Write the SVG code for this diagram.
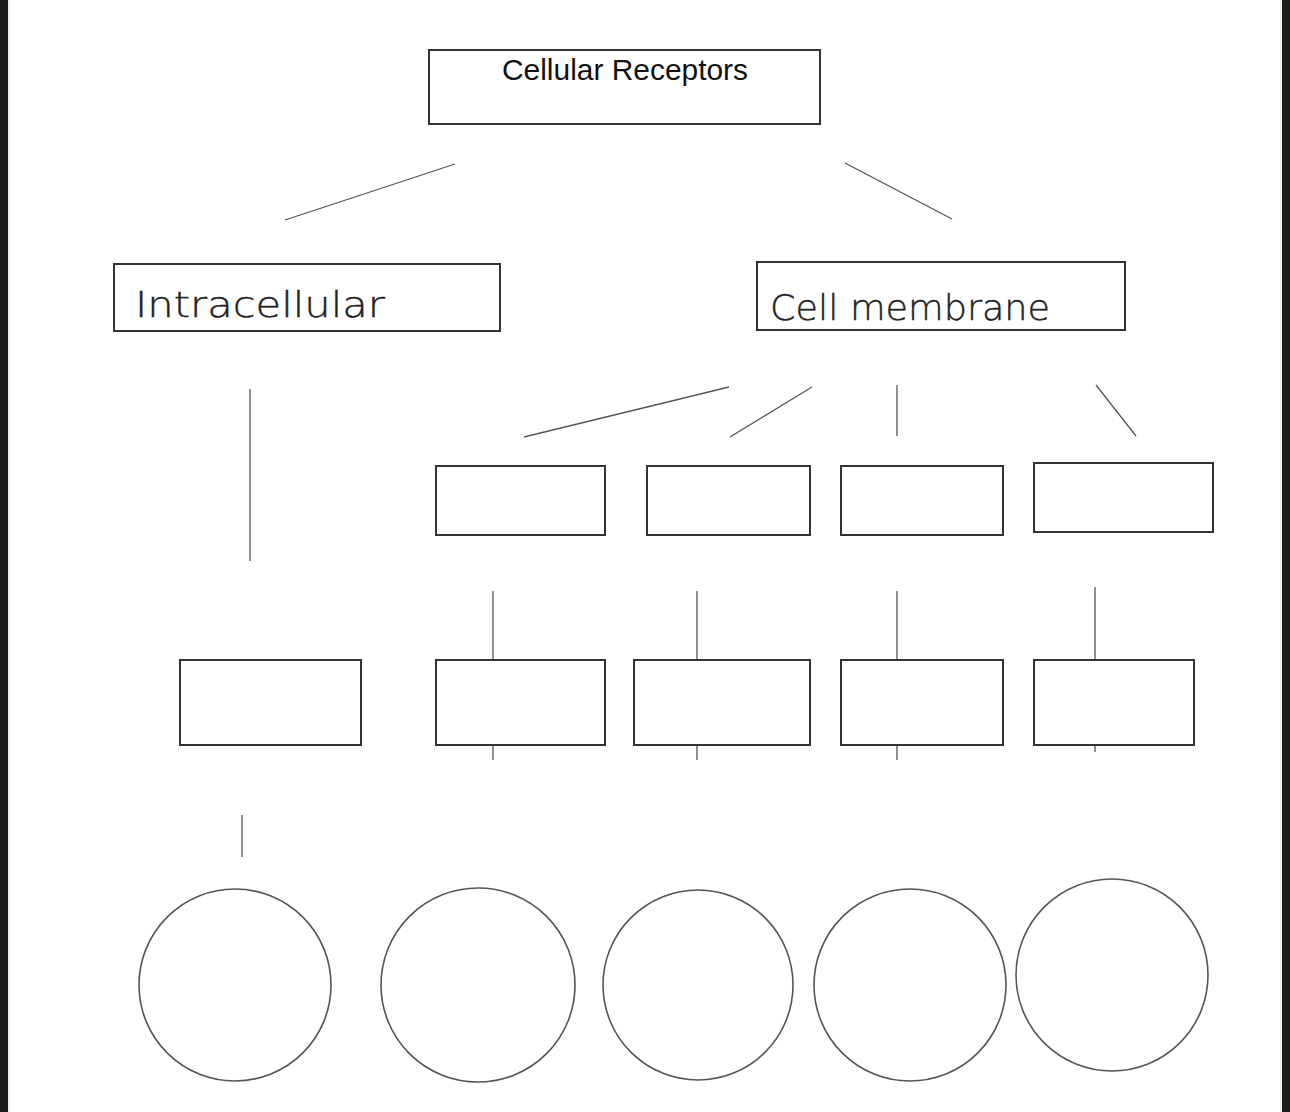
<svg xmlns="http://www.w3.org/2000/svg" width="1290" height="1112" viewBox="0 0 1290 1112">
<style>
.box{fill:#fff;stroke:#333;stroke-width:2}
.circ{fill:#fff;stroke:#555;stroke-width:1.6}
.ln{stroke:#555;stroke-width:1.3;fill:none}
.hand{font-family:"DejaVu Sans",sans-serif;font-weight:300;fill:#222;stroke:#222;stroke-width:0.4}
</style>
<rect x="0" y="0" width="1290" height="1112" fill="#fff"/>
<rect x="0" y="0" width="8" height="1112" fill="#1c1c1e"/>
<rect x="8" y="0" width="2" height="1112" fill="#eee"/>
<rect x="1282" y="0" width="8" height="1112" fill="#1c1c1e"/>
<rect x="1280" y="0" width="2" height="1112" fill="#eee"/>
<g id="connectors">
<line class="ln" x1="455" y1="164" x2="285" y2="220"/>
<line class="ln" x1="845" y1="163" x2="952" y2="219"/>
<line class="ln" x1="250" y1="389" x2="250" y2="561"/>
<line class="ln" x1="729" y1="387" x2="524" y2="437"/>
<line class="ln" x1="812" y1="387" x2="730" y2="437"/>
<line class="ln" x1="897" y1="385" x2="897" y2="436"/>
<line class="ln" x1="1096" y1="385" x2="1136" y2="436"/>
<line class="ln" x1="493" y1="591" x2="493" y2="659"/>
<line class="ln" x1="697" y1="591" x2="697" y2="659"/>
<line class="ln" x1="897" y1="591" x2="897" y2="659"/>
<line class="ln" x1="1095" y1="587" x2="1095" y2="659"/>
<line class="ln" x1="493" y1="745" x2="493" y2="760"/>
<line class="ln" x1="697" y1="745" x2="697" y2="760"/>
<line class="ln" x1="897" y1="745" x2="897" y2="760"/>
<line class="ln" x1="1095" y1="745" x2="1095" y2="752"/>
<line class="ln" x1="242" y1="815" x2="242" y2="857"/>
</g>
<g id="root">
<rect class="box" x="429" y="50" width="391" height="74"/>
<text x="625" y="80" text-anchor="middle" font-family="Liberation Sans, Arial, sans-serif" font-size="29" textLength="246" lengthAdjust="spacingAndGlyphs" fill="#111">Cellular Receptors</text>
</g>
<g id="intracellular">
<rect class="box" x="114" y="264" width="386" height="67"/>
<text class="hand" x="135" y="317" font-size="36" textLength="250" lengthAdjust="spacingAndGlyphs">Intracellular</text>
</g>
<g id="cellmembrane">
<rect class="box" x="757" y="262" width="368" height="68"/>
<text class="hand" x="770" y="320" font-size="36" textLength="280" lengthAdjust="spacingAndGlyphs">Cell membrane</text>
</g>
<g id="m1"><rect class="box" x="436" y="466" width="169" height="69"/></g>
<g id="m2"><rect class="box" x="647" y="466" width="163" height="69"/></g>
<g id="m3"><rect class="box" x="841" y="466" width="162" height="69"/></g>
<g id="m4"><rect class="box" x="1034" y="463" width="179" height="69"/></g>
<g id="i1"><rect class="box" x="180" y="660" width="181" height="85"/></g>
<g id="c1"><rect class="box" x="436" y="660" width="169" height="85"/></g>
<g id="c2"><rect class="box" x="634" y="660" width="176" height="85"/></g>
<g id="c3"><rect class="box" x="841" y="660" width="162" height="85"/></g>
<g id="c4"><rect class="box" x="1034" y="660" width="160" height="85"/></g>
<g id="o1"><circle class="circ" cx="235" cy="985" r="96"/></g>
<g id="o2"><circle class="circ" cx="478" cy="985" r="97"/></g>
<g id="o3"><circle class="circ" cx="698" cy="985" r="95"/></g>
<g id="o4"><circle class="circ" cx="910" cy="985" r="96"/></g>
<g id="o5"><circle class="circ" cx="1112" cy="975" r="96"/></g>
</svg>
